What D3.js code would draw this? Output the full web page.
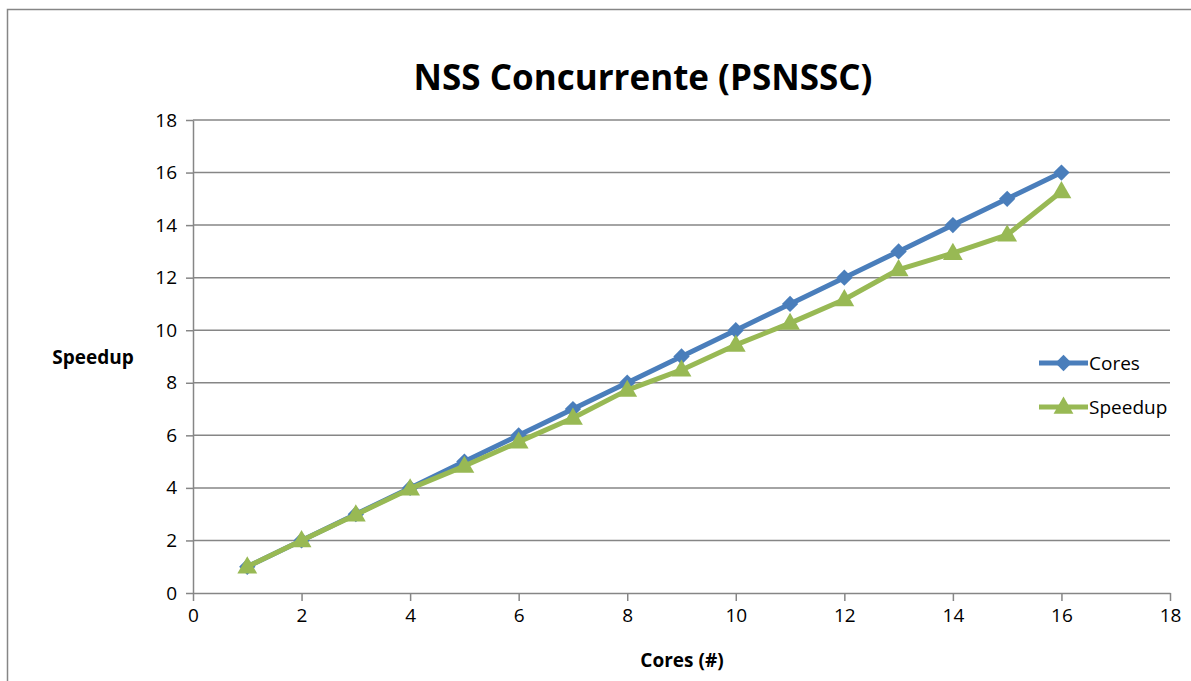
<!DOCTYPE html>
<html>
<head>
<meta charset="utf-8">
<script src="https://cdn.jsdelivr.net/npm/d3@7"></script>
<style>
body{margin:0;background:#fff;}
svg{display:block;font-family:"Open Sans",sans-serif;}
.grid line{stroke:#868686;stroke-width:1.5;}
.axis path,.axis line{stroke:#868686;stroke-width:1.5;}
.axis text{font-family:"Open Sans",sans-serif;font-size:19px;fill:#000;}
</style>
</head>
<body>
<div id="chart"></div>
<script>
(function(){
"use strict";

// data
var cores = [1,2,3,4,5,6,7,8,9,10,11,12,13,14,15,16];
var speedup = [1.0,2.0,2.98,3.97,4.83,5.75,6.66,7.72,8.49,9.44,10.27,11.17,12.31,12.93,13.63,15.28];
var xTicks = [0,2,4,6,8,10,12,14,16,18];
var yTicks = [0,2,4,6,8,10,12,14,16,18];
var seriesNames = ["Cores","Speedup"];

var W = 1191, H = 681;
var plot = {left:193, right:1170, top:120, bottom:593};
var blue = "#4A7EBB", green = "#98B954";

var svg = d3.select("#chart").append("svg")
	.attr("width", W)
	.attr("height", H);

// outer chart border
svg.append("rect")
	.attr("x", 7.5).attr("y", 9.5)
	.attr("width", W + 10).attr("height", H + 10)
	.attr("fill", "#fff")
	.attr("stroke", "#868686")
	.attr("stroke-width", 1.5);

var x = d3.scaleLinear().domain([0,18]).range([plot.left, plot.right]);
var y = d3.scaleLinear().domain([0,18]).range([plot.bottom, plot.top]);

// horizontal gridlines
svg.append("g").attr("class","grid")
	.selectAll("line")
	.data(yTicks.filter(function(d){ return d > 0; }))
	.enter().append("line")
		.attr("x1", plot.left).attr("x2", plot.right)
		.attr("y1", function(d){ return y(d); })
		.attr("y2", function(d){ return y(d); });

var xAxis = d3.axisBottom(x).tickValues(xTicks).tickSize(8).tickSizeOuter(0).tickPadding(8);
var yAxis = d3.axisLeft(y).tickValues(yTicks).tickSize(7).tickSizeOuter(0).tickPadding(9);

svg.append("g")
	.attr("class","axis")
	.attr("transform","translate(0," + plot.bottom + ")")
	.call(xAxis);

svg.append("g")
	.attr("class","axis")
	.attr("transform","translate(" + plot.left + ",0)")
	.call(yAxis);

var line = d3.line()
	.x(function(d){ return x(d[0]); })
	.y(function(d){ return y(d[1]); });

var coresData = cores.map(function(c){ return [c, c]; });
var speedData = cores.map(function(c, i){ return [c, speedup[i]]; });

var diamond = d3.symbol().type(d3.symbolDiamond2).size(170);
var triangle = d3.symbol().type(d3.symbolTriangle).size(170);

svg.append("path")
	.datum(coresData)
	.attr("d", line)
	.attr("fill","none")
	.attr("stroke", blue)
	.attr("stroke-width", 5)
	.attr("stroke-linejoin","round");

svg.selectAll(".dia")
	.data(coresData)
	.enter().append("path")
		.attr("class","dia")
		.attr("d", diamond)
		.attr("transform", function(d){ return "translate(" + x(d[0]) + "," + y(d[1]) + ")"; })
		.attr("fill", blue);

svg.append("path")
	.datum(speedData)
	.attr("d", line)
	.attr("fill","none")
	.attr("stroke", green)
	.attr("stroke-width", 5)
	.attr("stroke-linejoin","round");

svg.selectAll(".tri")
	.data(speedData)
	.enter().append("path")
		.attr("class","tri")
		.attr("d", triangle)
		.attr("transform", function(d){ return "translate(" + x(d[0]) + "," + (y(d[1]) + 1) + ")"; })
		.attr("fill", green);

// legend
var legend = svg.append("g").attr("transform","translate(1039,363)");
var items = legend.selectAll("g")
	.data(seriesNames)
	.enter().append("g")
		.attr("transform", function(d, i){ return "translate(0," + (i * 44) + ")"; });

items.append("line")
	.attr("x1", 0).attr("x2", 49)
	.attr("stroke", function(d, i){ return i === 0 ? blue : green; })
	.attr("stroke-width", 5);

items.append("path")
	.attr("d", function(d, i){ return i === 0 ? diamond() : triangle(); })
	.attr("transform", function(d, i){ return "translate(24.5," + (i === 0 ? 0 : 1) + ")"; })
	.attr("fill", function(d, i){ return i === 0 ? blue : green; });

items.append("text")
	.attr("x", 50)
	.attr("dy", "0.35em")
	.style("font-size", "19px")
	.text(function(d){ return d; });

// titles
svg.append("text")
	.attr("x", 643).attr("y", 90)
	.attr("text-anchor","middle")
	.style("font-size","35px")
	.style("font-weight","bold")
	.text("NSS Concurrente (PSNSSC)");

svg.append("text")
	.attr("x", 93).attr("y", 364)
	.attr("text-anchor","middle")
	.style("font-size","19px")
	.style("font-weight","bold")
	.text("Speedup");

svg.append("text")
	.attr("x", 682).attr("y", 667)
	.attr("text-anchor","middle")
	.style("font-size","19px")
	.style("font-weight","bold")
	.text("Cores (#)");

})();
</script>
</body>
</html>
